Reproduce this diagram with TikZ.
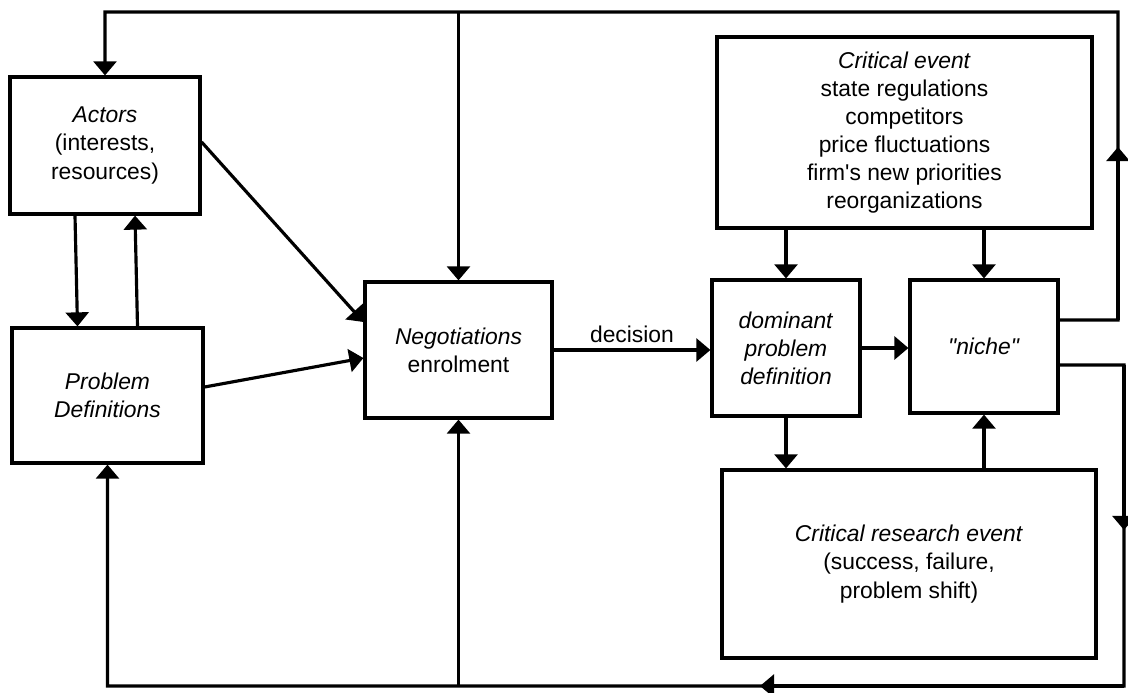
\documentclass[tikz,border=0pt]{standalone}
\usepackage{fontspec}
\setmainfont{Liberation Sans}
\usetikzlibrary{arrows.meta}

\tikzset{
  box/.style={draw, line width=1.8pt, align=center, inner sep=0pt, font=\fontsize{13}{16}\selectfont},
  arr/.style={line width=1.8pt, -{Triangle[width=13pt,length=8pt]}},
  line/.style={line width=1.8pt}
}

\begin{document}
\begin{tikzpicture}
\useasboundingbox (0,0) rectangle (22.56,-13.86);

\node (actors) at (2.10,-2.91) [box, minimum width=3.8cm, minimum height=2.74cm]{\textit{Actors}\\(interests,\\resources)};
\node (probdef) at (2.15,-7.91) [box, minimum width=3.82cm, minimum height=2.70cm]{\textit{Problem}\\\textit{Definitions}};
\node (negot) at (9.17,-7.00) [box, minimum width=3.74cm, minimum height=2.72cm]{\textit{Negotiations}\\enrolment};
\node (dompd) at (15.72,-6.96) [box, minimum width=2.96cm, minimum height=2.72cm]{\textit{dominant}\\\textit{problem}\\\textit{definition}};
\node (niche) at (19.68,-6.93) [box, minimum width=2.96cm, minimum height=2.66cm]{\textit{\textquotedbl niche\textquotedbl}};
\node (critev) at (18.09,-2.65) [box, minimum width=7.5cm, minimum height=3.82cm]{\textit{Critical event}\\state regulations\\competitors\\price fluctuations\\firm\textquotesingle s new priorities\\reorganizations};
\node (critres) at (18.18,-11.28) [box, minimum width=7.48cm, minimum height=3.76cm]{\textit{Critical research event}\\(success, failure,\\problem shift)};

% corners of the two feedback loops
\coordinate (tr) at (22.36,-0.24);
\coordinate (tl) at (2.10,-0.24);
\coordinate (r1) at (22.36,-6.40);
\coordinate (r1m) at (22.36,-2.94);
\coordinate (r2) at (22.48,-7.30);
\coordinate (r2m) at (22.48,-10.60);
\coordinate (br) at (22.48,-13.72);
\coordinate (bm) at (15.20,-13.72);

% left side
\draw [arr] ([xshift=-0.6cm]actors.south) -- ([xshift=-0.6cm]probdef.north);
\draw [arr] ([xshift=0.6cm]probdef.north) -- ([xshift=0.6cm]actors.south);
\draw [arr] ([yshift=0.07cm]actors.east) -- ([yshift=0.56cm]negot.west);
\draw [arr] ([yshift=0.17cm]probdef.east) -- ([yshift=-0.16cm]negot.west);

\draw [arr] (negot.east) -- node[above, font=\fontsize{13}{16}\selectfont]{decision} (negot.east -| dompd.west);
\draw [arr, line width=2.4pt] (dompd.east) -- (dompd.east -| niche.west);

% critical events
\draw [arr] (dompd.north |- critev.south) -- (dompd.north);
\draw [arr] (niche.north |- critev.south) -- (niche.north);
\draw [arr] (dompd.south) -- (dompd.south |- critres.north);
\draw [arr] (niche.south |- critres.north) -- (niche.south);

% upper loop
\draw [arr] ([yshift=0.53cm]niche.east) -- (r1) -- (tr) -- (tl) -- (actors.north);
\draw [arr] (r1) -- (r1m);
\draw [arr] (negot.north |- tl) -- (negot.north);

% lower loop
\draw [arr] ([yshift=-0.37cm]niche.east) -- (r2) -- (br) -- (probdef.south |- br) -- (probdef.south);
\draw [arr] (r2) -- (r2m);
\draw [arr] (br) -- (bm);
\draw [arr] (negot.south |- br) -- (negot.south);

\end{tikzpicture}
\end{document}
